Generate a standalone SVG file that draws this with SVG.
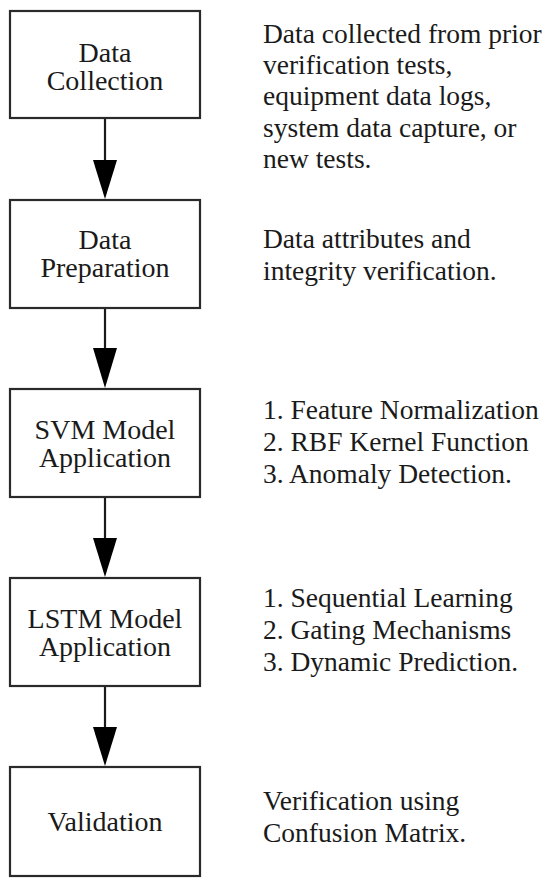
<svg xmlns="http://www.w3.org/2000/svg" width="550" height="888" viewBox="0 0 550 888">
<style>
.box{fill:#fff;stroke:#2a2a2a;stroke-width:2.2}
.bt{font-family:"Liberation Serif","Times New Roman",serif;font-size:28px;fill:#1a1a1a;text-anchor:middle}
.rt{font-family:"Liberation Serif","Times New Roman",serif;font-size:27.5px;fill:#1a1a1a}
.ln{stroke:#1a1a1a;stroke-width:2.2;fill:none}
.hd{fill:#000}
</style>
<rect width="550" height="888" fill="#fff"/>
<g id="connectors">
<line class="ln" x1="105" y1="118" x2="105" y2="170"/>
<polygon class="hd" points="93,160 117,160 105,199"/>
<line class="ln" x1="105" y1="308" x2="105" y2="358"/>
<polygon class="hd" points="93,348 117,348 105,388"/>
<line class="ln" x1="105" y1="497" x2="105" y2="548"/>
<polygon class="hd" points="93,538 117,538 105,577"/>
<line class="ln" x1="105" y1="686" x2="105" y2="737"/>
<polygon class="hd" points="93,727 117,727 105,766"/>
</g>
<g id="data-collection">
<rect class="box" x="10" y="11" width="190" height="107"/>
<text class="bt" x="105" y="62">Data</text>
<text class="bt" x="105" y="90">Collection</text>
</g>
<g id="data-collection-note">
<text class="rt" x="263" y="43">Data collected from prior</text>
<text class="rt" x="263" y="74">verification tests,</text>
<text class="rt" x="263" y="105">equipment data logs,</text>
<text class="rt" x="263" y="137">system data capture, or</text>
<text class="rt" x="263" y="168">new tests.</text>
</g>
<g id="data-preparation">
<rect class="box" x="10" y="200" width="190" height="108"/>
<text class="bt" x="105" y="249">Data</text>
<text class="bt" x="105" y="277">Preparation</text>
</g>
<g id="data-preparation-note">
<text class="rt" x="263" y="248">Data attributes and</text>
<text class="rt" x="263" y="280">integrity verification.</text>
</g>
<g id="svm-model">
<rect class="box" x="10" y="389" width="190" height="108"/>
<text class="bt" x="105" y="439">SVM Model</text>
<text class="bt" x="105" y="467">Application</text>
</g>
<g id="svm-model-note">
<text class="rt" x="263" y="419">1. Feature Normalization</text>
<text class="rt" x="263" y="451">2. RBF Kernel Function</text>
<text class="rt" x="263" y="483">3. Anomaly Detection.</text>
</g>
<g id="lstm-model">
<rect class="box" x="10" y="578" width="190" height="108"/>
<text class="bt" x="105" y="628">LSTM Model</text>
<text class="bt" x="105" y="656">Application</text>
</g>
<g id="lstm-model-note">
<text class="rt" x="263" y="607">1. Sequential Learning</text>
<text class="rt" x="263" y="639">2. Gating Mechanisms</text>
<text class="rt" x="263" y="671">3. Dynamic Prediction.</text>
</g>
<g id="validation">
<rect class="box" x="10" y="767" width="190" height="109"/>
<text class="bt" x="105" y="831">Validation</text>
</g>
<g id="validation-note">
<text class="rt" x="263" y="810">Verification using</text>
<text class="rt" x="263" y="842">Confusion Matrix.</text>
</g>
</svg>
